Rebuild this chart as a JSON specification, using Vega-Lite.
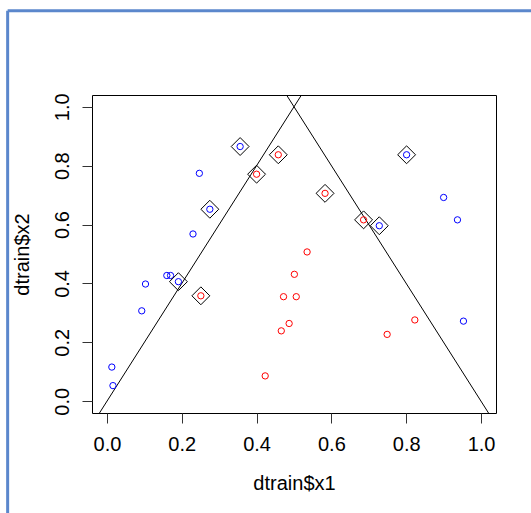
{
  "$schema": "https://vega.github.io/schema/vega-lite/v6.json",
  "autosize": "none",
  "width": 404,
  "height": 318,
  "padding": {"left": 92, "top": 95, "right": 35, "bottom": 100},
  "background": "white",
  "config": {
    "view": {"stroke": "black", "strokeWidth": 1},
    "font": "Liberation Sans",
    "axis": {
      "domain": false,
      "grid": false,
      "ticks": true,
      "tickColor": "#333333",
      "tickSize": 10,
      "labelFont": "Liberation Sans",
      "labelFontSize": 20,
      "labelColor": "black",
      "titleFont": "Liberation Sans",
      "titleFontSize": 20,
      "titleFontWeight": "normal",
      "titleColor": "black"
    }
  },
  "datasets": {
    "pts": [
      {"x1": 0.356, "x2": 0.865, "cls": "blue", "sv": true},
      {"x1": 0.247, "x2": 0.774, "cls": "blue", "sv": false},
      {"x1": 0.275, "x2": 0.652, "cls": "blue", "sv": true},
      {"x1": 0.230, "x2": 0.568, "cls": "blue", "sv": false},
      {"x1": 0.160, "x2": 0.427, "cls": "blue", "sv": false},
      {"x1": 0.170, "x2": 0.427, "cls": "blue", "sv": false},
      {"x1": 0.191, "x2": 0.406, "cls": "blue", "sv": true},
      {"x1": 0.103, "x2": 0.398, "cls": "blue", "sv": false},
      {"x1": 0.093, "x2": 0.307, "cls": "blue", "sv": false},
      {"x1": 0.013, "x2": 0.116, "cls": "blue", "sv": false},
      {"x1": 0.016, "x2": 0.053, "cls": "blue", "sv": false},
      {"x1": 0.801, "x2": 0.837, "cls": "blue", "sv": true},
      {"x1": 0.728, "x2": 0.596, "cls": "blue", "sv": true},
      {"x1": 0.900, "x2": 0.692, "cls": "blue", "sv": false},
      {"x1": 0.937, "x2": 0.616, "cls": "blue", "sv": false},
      {"x1": 0.953, "x2": 0.272, "cls": "blue", "sv": false},
      {"x1": 0.458, "x2": 0.837, "cls": "red", "sv": true},
      {"x1": 0.400, "x2": 0.771, "cls": "red", "sv": true},
      {"x1": 0.251, "x2": 0.358, "cls": "red", "sv": true},
      {"x1": 0.583, "x2": 0.706, "cls": "red", "sv": true},
      {"x1": 0.686, "x2": 0.616, "cls": "red", "sv": true},
      {"x1": 0.535, "x2": 0.507, "cls": "red", "sv": false},
      {"x1": 0.501, "x2": 0.431, "cls": "red", "sv": false},
      {"x1": 0.472, "x2": 0.355, "cls": "red", "sv": false},
      {"x1": 0.506, "x2": 0.355, "cls": "red", "sv": false},
      {"x1": 0.487, "x2": 0.264, "cls": "red", "sv": false},
      {"x1": 0.466, "x2": 0.239, "cls": "red", "sv": false},
      {"x1": 0.423, "x2": 0.086, "cls": "red", "sv": false},
      {"x1": 0.823, "x2": 0.276, "cls": "red", "sv": false},
      {"x1": 0.749, "x2": 0.227, "cls": "red", "sv": false}
    ],
    "lines": [
      {"line": "a", "x1": -0.02, "x2": -0.04},
      {"line": "a", "x1": 0.52, "x2": 1.04},
      {"line": "b", "x1": 0.48, "x2": 1.04},
      {"line": "b", "x1": 1.02, "x2": -0.04}
    ],
    "frame": [
      {"edge": "left", "x1": -0.2655, "x1b": -0.2655, "x2": 1.3265, "x2b": -0.5},
      {"edge": "top", "x1": -0.2655, "x1b": 1.25, "x2": 1.3265, "x2b": 1.3265}
    ]
  },
  "encoding": {
    "x": {
      "field": "x1", "type": "quantitative",
      "scale": {"domain": [-0.04, 1.04], "nice": false, "zero": false},
      "axis": {"values": [0, 0.2, 0.4, 0.6, 0.8, 1.0], "format": ".1f", "title": "dtrain$x1",
               "labelPadding": 11, "labelBaseline": "top", "titlePadding": 19}
    },
    "y": {
      "field": "x2", "type": "quantitative",
      "scale": {"domain": [-0.04, 1.04], "nice": false, "zero": false},
      "axis": {"values": [0, 0.2, 0.4, 0.6, 0.8, 1.0], "format": ".1f", "title": "dtrain$x2",
               "labelAngle": -90, "labelAlign": "center", "labelBaseline": "alphabetic",
               "labelPadding": 14, "titlePadding": 20}
    }
  },
  "layer": [
    {
      "data": {"name": "frame"},
      "mark": {"type": "rule", "color": "#5b87cc", "strokeWidth": 3, "clip": false},
      "encoding": {
        "x2": {"field": "x1b"},
        "y2": {"field": "x2b"}
      }
    },
    {
      "data": {"name": "lines"},
      "mark": {"type": "line", "color": "black", "strokeWidth": 1, "clip": true},
      "encoding": {"detail": {"field": "line"}}
    },
    {
      "data": {"name": "pts"},
      "mark": {"type": "point", "shape": "circle", "filled": false, "size": 40, "strokeWidth": 1, "opacity": 1},
      "encoding": {
        "color": {"field": "cls", "type": "nominal",
                  "scale": {"domain": ["blue", "red"], "range": ["#0000FF", "#FF0000"]}, "legend": null}
      }
    },
    {
      "data": {"name": "pts"},
      "transform": [{"filter": "datum.sv"}],
      "mark": {"type": "point", "shape": "diamond", "filled": false, "size": 320, "strokeWidth": 1, "color": "black", "opacity": 1}
    }
  ]
}
